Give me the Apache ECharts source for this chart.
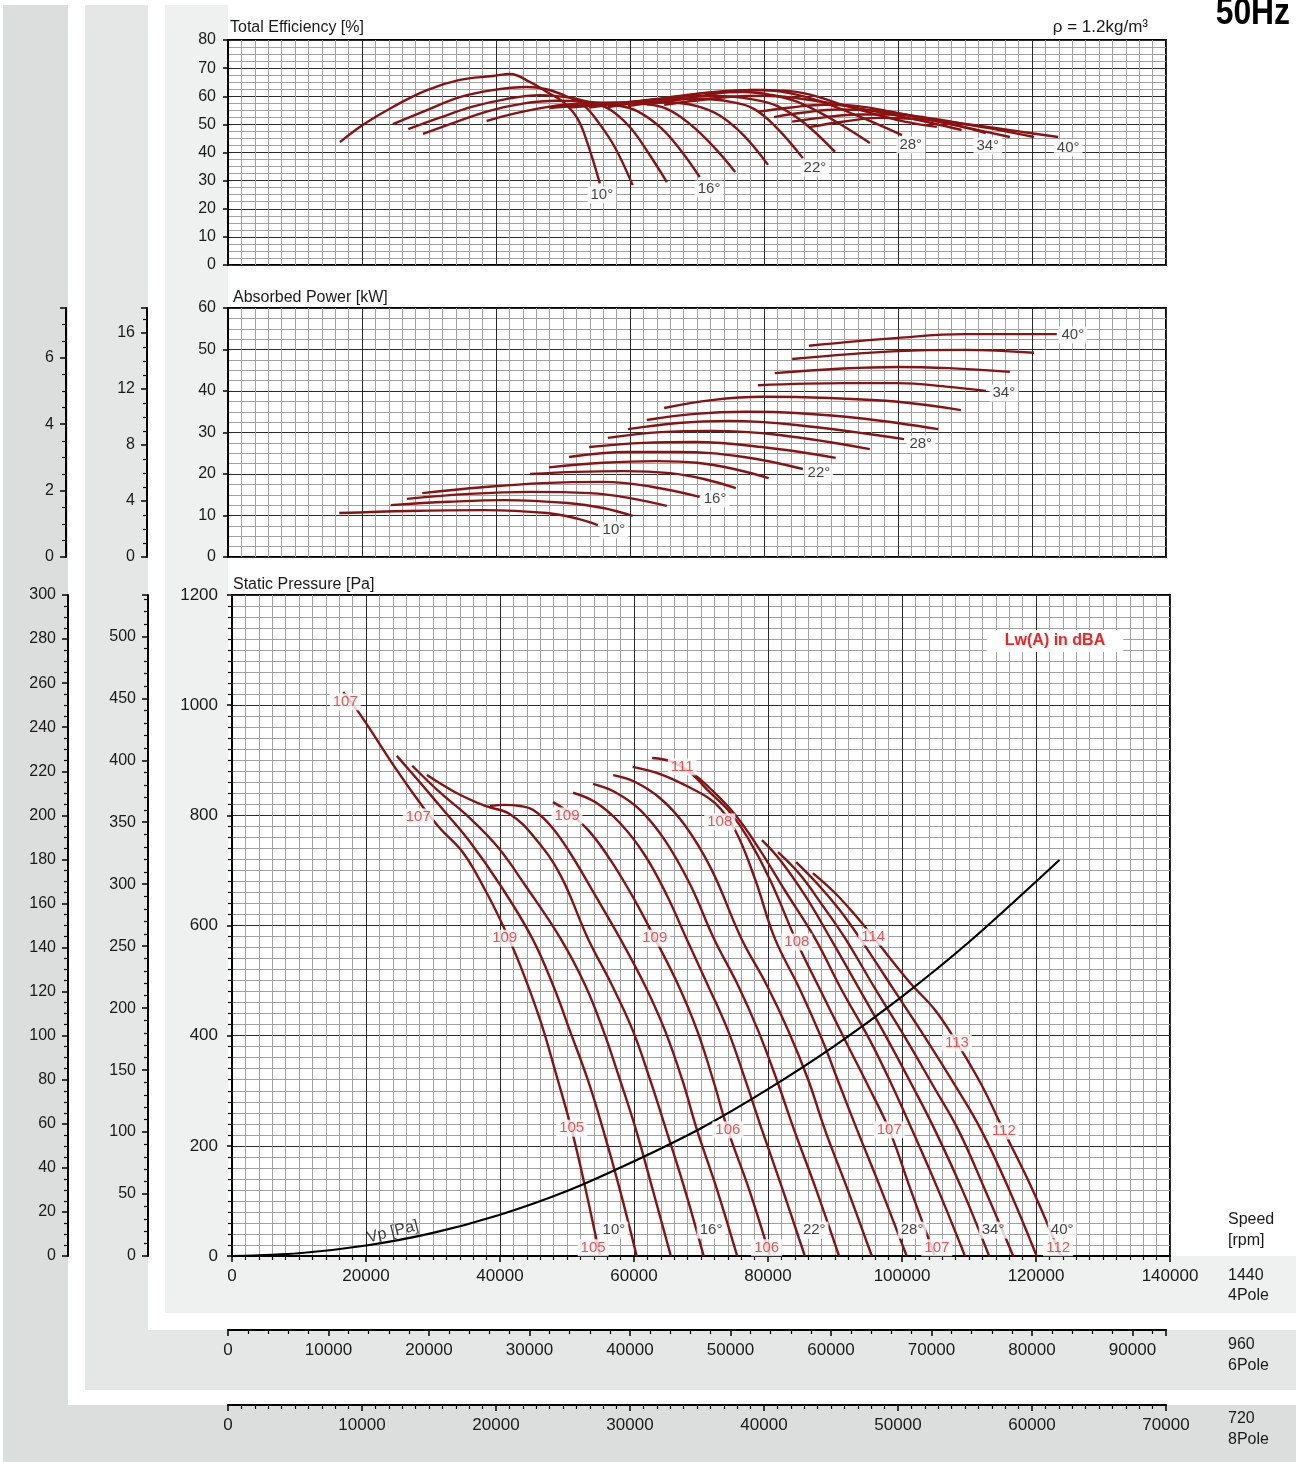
<!DOCTYPE html>
<html><head><meta charset="utf-8">
<script src="https://cdn.jsdelivr.net/npm/echarts@6/dist/echarts.min.js"></script>
<style>html,body{margin:0;padding:0;background:#fff}#c{width:1296px;height:1462px}</style>
</head><body><div id="c"></div>
<script>
// ---------- DATA ----------
const angles = ['10°','12°','14°','16°','18°','20°','22°','24°','26°','28°','30°','32°','34°','36°','38°','40°'];
const speeds = [1440, 960, 720];
const poles = ['4Pole', '6Pole', '8Pole'];
const flowTicks = [0, 20000, 40000, 60000, 80000, 100000, 120000, 140000];

// Total efficiency [%] vs flow [m3/h] at 1440 rpm
const efficiency = [
  [[16700,43.7],[20100,49.8],[24600,56.2],[29700,62.2],[34600,65.8],[39500,67.2],[42100,67.9],[45100,65],[47600,61.5],[50000,58],[52100,52.3],[53600,43.7],[55500,29]],
  [[24600,50.1],[29700,55.1],[34600,59.7],[39500,62.2],[44600,63.3],[47500,62.5],[50500,60],[53000,57],[55500,50],[57800,41.6],[60400,28.4]],
  [[26900,48.3],[31500,52.3],[36500,56.3],[41500,59],[46500,60.4],[51000,59.5],[54500,57.5],[57000,55.3],[60000,49],[62700,40],[65500,29.5]],
  [[29100,46.6],[34000,50.8],[39000,54.8],[44000,57.4],[49000,58.4],[54000,58],[58000,56.8],[61000,54.8],[64500,49],[67500,41],[70400,31.3]],
  [[38600,51.2],[43000,54],[48000,56.3],[53000,57.5],[58000,57.8],[62000,57.3],[65500,55.5],[69000,50],[72500,42],[75700,33.1]],
  [[48000,55.8],[52000,56.6],[56000,57.2],[61000,57.8],[66000,57.8],[70000,56.5],[73500,53],[77000,46],[80600,35.6]],
  [[50900,56],[56000,57],[61000,58.2],[66000,59],[71000,59],[75000,58],[78500,55.5],[82000,48.5],[85800,38]],
  [[53900,56],[59000,57.5],[64000,59],[69000,60],[74000,60],[78000,59],[82000,56.5],[86000,50.5],[90600,40.2]],
  [[56700,56.2],[62000,58],[67000,60],[72000,61.3],[77000,61.5],[81000,60.5],[85000,58],[90000,52],[95800,43.4]],
  [[59700,56.5],[65000,58.5],[70000,60.8],[75000,62],[80000,62.2],[84000,61],[88000,58.5],[94000,53],[100600,46.2]],
  [[62500,57],[68000,59],[73000,61],[78000,62.2],[83000,62],[87000,60.5],[91000,57.5],[96000,54],[101000,51],[105800,49.1]],
  [[65100,57],[70000,58.5],[75000,59.8],[80000,60.2],[85000,59.3],[90000,57.5],[95000,55.3],[100000,53],[105000,50.5],[109500,48]],
  [[79100,54.5],[84000,56],[89000,57],[94000,56.5],[99000,54.5],[104000,52],[109000,49.5],[113100,46.9]],
  [[81500,52.6],[86000,54.2],[91000,55.3],[96000,55],[101000,53.5],[106000,51],[111000,48.5],[116700,45.5]],
  [[84200,51],[89000,52.5],[94000,53.5],[99000,53.5],[104000,52.5],[109000,50.5],[114000,48.5],[120300,45.5]],
  [[86700,49],[92000,51],[97000,52.3],[102000,52],[107000,51],[112000,49.5],[118000,47.5],[123900,45.5]]
];

// Absorbed power [kW] vs flow at 1440 rpm
const power = [
  [[16600,10.6],[27000,11.1],[38200,11.3],[47600,10.6],[52000,9.3],[55200,7.7]],
  [[24300,12.5],[33000,13.3],[41300,13.7],[50700,13],[56000,11.8],[60400,9.9]],
  [[26700,14],[36000,15.2],[45000,15.7],[54000,15.4],[60000,14.2],[65500,12.3]],
  [[29000,15.4],[38000,16.8],[47000,17.8],[56000,18.1],[63000,17],[70400,14.5]],
  [[45100,20],[52000,20.5],[59000,20.7],[66000,20.2],[71000,18.8],[75800,16.6]],
  [[47900,21.6],[56000,22.7],[64000,23.1],[70000,22.7],[75500,21.2],[80700,19]],
  [[50900,24.1],[59700,25.3],[67100,25.3],[77000,24.1],[85800,21.2]],
  [[53900,26.5],[62100,27.5],[69700,27.7],[79700,26.5],[90700,23.9]],
  [[56700,28.7],[64600,30.1],[72200,30.4],[82300,29.4],[95800,26]],
  [[59700,30.8],[67200,32.3],[74800,32.8],[84800,31.8],[100900,28.4]],
  [[62500,33],[69700,34.5],[77300,35],[84800,34.7],[95000,33.3],[106000,30.8]],
  [[65100,35.9],[72200,37.8],[79800,38.6],[89800,38.3],[100000,37.4],[109400,35.4]],
  [[79100,41.4],[92000,41.9],[100000,41.9],[107600,41],[113100,40]],
  [[81600,44.3],[100000,45.8],[107600,45.5],[116700,44.6]],
  [[84200,47.7],[100000,49.6],[110000,49.9],[120300,49.2]],
  [[86700,50.9],[100000,52.8],[110000,53.7],[123700,53.7]]
];

// Static pressure [Pa] vs flow at 1440 rpm
const pressure = [
  [[16600,1024],[19200,982],[24600,882],[28500,815],[31000,777],[34500,732],[37800,664],[40400,601],[43000,528],[46000,428],[48400,329],[50700,229],[52800,120],[54900,0]],
  [[24600,908],[28100,859],[31800,806],[35500,752],[40000,674],[44800,577],[48200,483],[50400,410],[53100,320],[55400,229],[57900,120],[60400,0]],
  [[26900,890],[31000,842],[35500,795],[39700,742],[43700,674],[49000,577],[52700,492],[55400,410],[57900,320],[60300,229],[62800,120],[65500,0]],
  [[29100,873],[33300,842],[37800,817],[41500,802],[45200,759],[49000,692],[53100,577],[56700,492],[59800,410],[62400,320],[64800,229],[67600,120],[70400,0]],
  [[38500,817],[40700,819],[43000,817],[44900,810],[47500,782],[50400,733],[54200,655],[57900,577],[61600,492],[64600,410],[67200,320],[69400,229],[72400,120],[75400,0]],
  [[47900,824],[50400,804],[53400,770],[56700,715],[60100,646],[63100,577],[66600,492],[69400,410],[71800,320],[74000,229],[77200,120],[80300,0]],
  [[50900,841],[54200,824],[57900,786],[61600,728],[64900,655],[67800,577],[71000,492],[74000,410],[76600,320],[79100,229],[82200,120],[85500,0]],
  [[53900,857],[57200,842],[60900,810],[64600,755],[68400,674],[71900,577],[75500,492],[78500,410],[81300,320],[83900,229],[87200,120],[90600,0]],
  [[56900,873],[60100,861],[63900,831],[67600,782],[71600,701],[76000,577],[79800,492],[83000,410],[86000,320],[88500,229],[91900,120],[95500,0]],
  [[59800,888],[63900,875],[68400,850],[72100,822],[75100,773],[78100,683],[81000,577],[84800,483],[88100,392],[90700,310],[93300,229],[96900,120],[100700,0]],
  [[62700,904],[65700,897],[68400,877],[71300,842],[74300,806],[77000,759],[80300,683],[84300,570],[87800,483],[91500,392],[94900,310],[98100,229],[101300,120],[104900,0]],
  [[65100,900],[68400,879],[71600,846],[75100,801],[78800,737],[82500,664],[87000,577],[91000,483],[95200,392],[98500,310],[101500,229],[105400,120],[109400,0]],
  [[79100,755],[81800,719],[85500,655],[89300,577],[93700,483],[97900,392],[101500,310],[104900,229],[109000,120],[113000,0]],
  [[81500,733],[84800,692],[88100,637],[91500,577],[96100,483],[100700,392],[104600,310],[108400,229],[112400,120],[116600,0]],
  [[84200,715],[87500,674],[90700,628],[93700,577],[98800,483],[103700,392],[107900,310],[111800,229],[116000,120],[120100,0]],
  [[86700,695],[90000,659],[93000,619],[95700,579],[101200,496],[104900,447],[108200,387],[111900,310],[115200,227],[119500,120],[123700,0]]
];

// Dynamic pressure Vp [Pa]
const vpCurve = [[0,0],[10000,5],[20000,19],[30000,42],[40000,75],[50000,118],[60000,172],[70000,232],[80000,303],[90000,382],[100000,471],[110000,570],[123500,719]];

// Labels placed in data coordinates
const effAngleLabels = [[55800,24.9,'10°'],[71800,27,'16°'],[87600,34.5,'22°'],[101900,42.7,'28°'],[113400,42.3,'34°'],[125400,41.6,'40°']];
const powerAngleLabels = [[57600,6.5,'10°'],[72700,14,'16°'],[88200,20.2,'22°'],[103400,27.2,'28°'],[115800,39.5,'34°'],[126100,53.5,'40°']];
const pressureAngleLabels = [[57000,47,'10°'],[71500,47,'16°'],[86900,47,'22°'],[101500,47,'28°'],[113600,47,'34°'],[123900,47,'40°']];
const soundLabels = [
  [16900,1006,'107'],[27800,797,'107'],[40700,577,'109'],[50700,232,'105'],[53900,15,'105'],
  [50000,799,'109'],[63100,577,'109'],[74000,229,'106'],[79800,15,'106'],
  [67200,888,'111'],[72800,788,'108'],[84300,570,'108'],[98100,229,'107'],[105200,15,'107'],
  [95700,579,'114'],[108200,387,'113'],[115200,227,'112'],[123300,15,'112']
];
const vpLabel = [[24000,44,'Vp [Pa]']];

// ---------- CHART ----------
const FONT = 'Liberation Sans, Arial, Helvetica, sans-serif';
const CURVE = '#8c1212';
const MAJOR = '#2a2a2a';
const MINOR = '#a2a2a2';
const fmt = v => String(Math.round(v));
const maxFlow = flowTicks[flowTicks.length - 1];
const r6 = speeds[1] / speeds[0], r8 = speeds[2] / speeds[0];

function gridX(gi, withLabels) {
  return {
    gridIndex: gi, type: 'value', min: 0, max: maxFlow, interval: 20000,
    axisLine: { show: withLabels, onZero: false, lineStyle: { color: '#000', width: 2 } },
    axisTick: { show: withLabels, length: 6, lineStyle: { color: '#000', width: 1.5 } },
    minorTick: { show: withLabels, splitNumber: 10, length: 4, lineStyle: { color: '#000', width: 1.2 } },
    axisLabel: { show: withLabels, fontSize: 17, color: '#1a1a1a', margin: 12, fontFamily: FONT, formatter: fmt },
    splitLine: { show: true, lineStyle: { color: MAJOR, width: 1 } },
    minorSplitLine: { show: true, lineStyle: { color: MINOR, width: 1 } }
  };
}
function mainY(gi, max, interval, minorSplit, fs, margin) {
  return {
    gridIndex: gi, type: 'value', min: 0, max: max, interval: interval, position: 'left',
    axisLine: { show: true, onZero: false, lineStyle: { color: '#000', width: 2 } },
    axisTick: { show: true, length: 5, lineStyle: { color: '#000', width: 1.5 } },
    minorTick: { show: gi === 2, splitNumber: minorSplit, length: 4, lineStyle: { color: '#000', width: 1.2 } },
    axisLabel: { fontSize: fs, color: '#1a1a1a', margin: margin, fontFamily: FONT, formatter: fmt },
    splitLine: { show: true, lineStyle: { color: MAJOR, width: 1 } },
    minorSplitLine: { show: true, lineStyle: { color: MINOR, width: 1 } }
  };
}
function sideY(gi, offset, max, interval, minorSplit) {
  const onTick = Math.abs(max / interval - Math.round(max / interval)) < 1e-6;
  return {
    gridIndex: gi, type: 'value', min: 0, max: max, interval: interval, position: 'left', offset: offset,
    axisLine: { show: true, onZero: false, lineStyle: { color: '#000', width: 2 } },
    axisTick: { show: true, length: 6, lineStyle: { color: '#000', width: 1.5 } },
    minorTick: { show: true, splitNumber: minorSplit, length: 4, lineStyle: { color: '#000', width: 1.2 } },
    axisLabel: { fontSize: 16, color: '#1a1a1a', margin: 12, fontFamily: FONT, showMaxLabel: onTick, formatter: fmt },
    splitLine: { show: false }
  };
}
function speedX(gi, max, minorSplit) {
  const onTick = Math.abs(max / 10000 - Math.round(max / 10000)) < 1e-6;
  return {
    gridIndex: gi, type: 'value', min: 0, max: max, interval: 10000, position: 'bottom',
    axisLine: { show: true, onZero: false, lineStyle: { color: '#000', width: 2 } },
    axisTick: { show: true, length: 6, lineStyle: { color: '#000', width: 1.5 } },
    minorTick: { show: true, splitNumber: minorSplit, length: 4, lineStyle: { color: '#000', width: 1.2 } },
    axisLabel: { fontSize: 17, color: '#1a1a1a', margin: 12, fontFamily: FONT, showMaxLabel: onTick, formatter: fmt },
    splitLine: { show: false }
  };
}

const series = [];
efficiency.forEach((d, i) => series.push({ name: 'eff ' + angles[i], type: 'line', xAxisIndex: 0, yAxisIndex: 0, data: d, smooth: 0.4, showSymbol: false, lineStyle: { color: CURVE, width: 2.4 }, z: 3 }));
power.forEach((d, i) => series.push({ name: 'pow ' + angles[i], type: 'line', xAxisIndex: 1, yAxisIndex: 1, data: d, smooth: 0.4, showSymbol: false, lineStyle: { color: CURVE, width: 2.4 }, z: 3 }));
pressure.forEach((d, i) => series.push({ name: 'ps ' + angles[i], type: 'line', xAxisIndex: 2, yAxisIndex: 4, data: d, smooth: 0.4, showSymbol: false, lineStyle: { color: CURVE, width: 2.4 }, z: 3 }));
series.push({ name: 'Vp', type: 'line', xAxisIndex: 2, yAxisIndex: 4, data: vpCurve, smooth: 0.3, showSymbol: false, lineStyle: { color: '#000', width: 2.2 }, z: 4 });

function labelSeries(data, xi, yi, color, fs) {
  return {
    type: 'scatter', xAxisIndex: xi, yAxisIndex: yi, symbolSize: 0, data: data, z: 6, silent: true,
    label: { show: true, position: 'inside', formatter: p => p.data[2], color: color, fontSize: fs, fontFamily: FONT,
      backgroundColor: '#fff', padding: [1, 3] }
  };
}
series.push(labelSeries(effAngleLabels, 0, 0, '#111', 15));
series.push(labelSeries(powerAngleLabels, 1, 1, '#111', 15));
series.push(labelSeries(pressureAngleLabels, 2, 4, '#111', 15));
series.push(labelSeries(soundLabels, 2, 4, '#ff1e1e', 15));
series.push({ type: 'scatter', xAxisIndex: 2, yAxisIndex: 4, symbolSize: 0, data: vpLabel, z: 6, silent: true,
  label: { show: true, position: 'inside', rotate: 14, formatter: p => p.data[2], color: '#111', fontSize: 16, fontFamily: FONT } });

function txt(x, y, text, opts) {
  return { type: 'text', z: 50, style: Object.assign({ x: x, y: y, text: text, fill: '#1a1a1a', font: '16px ' + FONT,
    textAlign: 'left', textVerticalAlign: 'middle', verticalAlign: 'middle' }, opts || {}) };
}
function rect(x, y, w, h, fill) {
  return { type: 'rect', z: -20, silent: true, shape: { x: x, y: y, width: w, height: h }, style: { fill: fill } };
}

const option = {
  animation: false,
  backgroundColor: '#fff',
  grid: [
    { left: 228, top: 40, width: 938, height: 225, show: true, backgroundColor: '#fff', borderColor: '#000', borderWidth: 2 },
    { left: 228, top: 308, width: 938, height: 249, show: true, backgroundColor: '#fff', borderColor: '#000', borderWidth: 2 },
    { left: 232, top: 595, width: 938, height: 661, show: true, backgroundColor: '#fff', borderColor: '#000', borderWidth: 2 },
    { left: 228, top: 1329, width: 938, height: 1 },
    { left: 228, top: 1404, width: 938, height: 1 }
  ],
  xAxis: [
    gridX(0, false), gridX(1, false), gridX(2, true),
    speedX(3, maxFlow * r6, 5), speedX(4, maxFlow * r8, 10)
  ],
  yAxis: [
    mainY(0, 80, 10, 4, 16, 12),
    mainY(1, 60, 10, 4, 16, 12),
    sideY(1, 81, 60 * r6 * r6 * r6, 4, 4),
    sideY(1, 162, 60 * r8 * r8 * r8, 2, 4),
    mainY(2, 1200, 200, 10, 17, 14),
    sideY(2, 84, 1200 * r6 * r6, 50, 5),
    sideY(2, 164, 1200 * r8 * r8, 20, 4),
    { gridIndex: 3, show: false, min: 0, max: 1 },
    { gridIndex: 4, show: false, min: 0, max: 1 }
  ],
  graphic: [
    rect(3, 5, 65, 1457, '#dcdddd'),
    rect(3, 1405, 1293, 57, '#dcdddd'),
    rect(85, 5, 63, 1385, '#e5e6e6'),
    rect(85, 1330, 1211, 60, '#e5e6e6'),
    rect(165, 5, 63, 1308, '#eff0f0'),
    rect(165, 1256, 1131, 57, '#eff0f0'),
    txt(230, 28, 'Total Efficiency [%]'),
    txt(1148, 27, 'ρ = 1.2kg/m³', { textAlign: 'right', font: '17px ' + FONT }),
    { type: 'text', z: 50, x: 1290, y: 14, scaleX: 0.86, style: { x: 0, y: 0, text: '50Hz', fill: '#000', textAlign: 'right',
      textVerticalAlign: 'middle', verticalAlign: 'middle', font: 'bold 37px ' + FONT } },
    txt(233, 298, 'Absorbed Power [kW]'),
    txt(233, 585, 'Static Pressure [Pa]'),
    txt(1055, 641, 'Lw(A) in dBA', { textAlign: 'center', fill: '#ff1e1e', font: 'bold 16px ' + FONT, backgroundColor: '#fff', padding: [3, 18] }),
    txt(1228, 1220, 'Speed'),
    txt(1228, 1241, '[rpm]'),
    txt(1228, 1276, String(speeds[0])),
    txt(1228, 1296, poles[0]),
    txt(1228, 1345, String(speeds[1])),
    txt(1228, 1366, poles[1]),
    txt(1228, 1419, String(speeds[2])),
    txt(1228, 1440, poles[2])
  ],
  series: series
};

const chart = echarts.init(document.getElementById('c'), null, { renderer: 'canvas' });
chart.setOption(option);
</script>
</body></html>
